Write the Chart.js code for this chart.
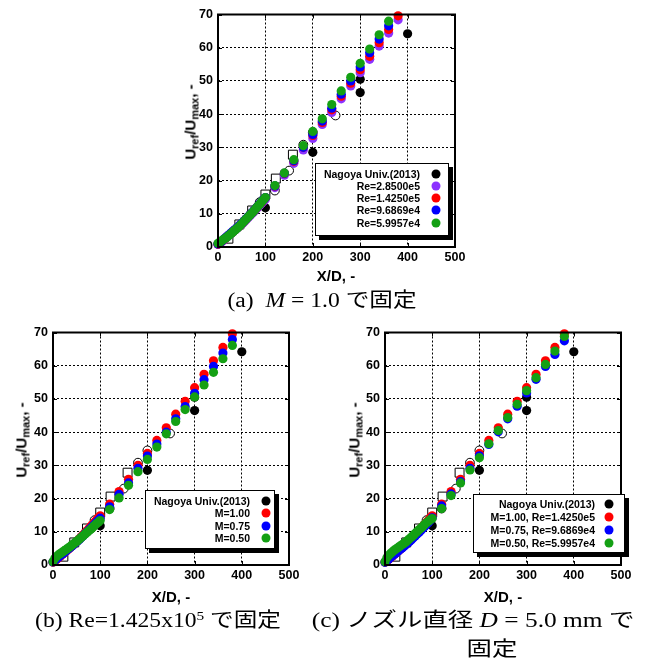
<!DOCTYPE html>
<html><head><meta charset="utf-8">
<script src="https://cdn.jsdelivr.net/npm/chart.js@4.4.1/dist/chart.umd.min.js"></script>
<style>
body{margin:0;background:#fff;}
#fig{position:relative;width:646px;height:665px;overflow:hidden;background:#fff;}
canvas{position:absolute;}
.ytitle{position:absolute;font:bold 15px 'Liberation Sans',Arial,sans-serif;transform:translate(-50%,-50%) rotate(-90deg);white-space:nowrap;line-height:17px;}
.ytitle sub{font-size:11px;vertical-align:-3px;line-height:0;}
.xtitle{position:absolute;font:bold 15px 'Liberation Sans',Arial,sans-serif;transform:translate(-50%,-50%);white-space:nowrap;line-height:17px;}
.cap{position:absolute;font:20px 'Liberation Serif','Noto Sans CJK JP',serif;transform:translate(-50%,-50%) scaleX(1.18);white-space:nowrap;line-height:24px;}
.cap.wide{transform:translate(-50%,-50%) scaleX(1.27);}
.cap sup{font-size:13px;vertical-align:7px;line-height:0;}
.legend{position:absolute;background:#fff;border:1.5px solid #000;box-shadow:4px 4px 0 #000;box-sizing:border-box;}
.legend .lt{position:absolute;font:bold 10.5px 'Liberation Sans',Arial,sans-serif;white-space:nowrap;line-height:12px;transform:translate(-100%,-50%);}
.legend .ld{position:absolute;width:9px;height:9px;border-radius:50%;transform:translate(-50%,-50%);}
</style>
</head><body>
<div id="fig">
<canvas id="ca"></canvas><canvas id="cb"></canvas><canvas id="cc"></canvas>
</div>
<script>
// ---------------- data ----------------
const X_D = [0,4,8,12,16,20,24,28,32,36,40,44,48,52,56,60,64,68,72,76,80,84,88,92,96,100,
             120,140,160,180,200,220,240,260,280,300,320,340,360,380];
const X_TICKS = [0,100,200,300,400,500];
const Y_TICKS = [0,10,20,30,40,50,60,70];

// Nagoya Univ.(2013) reference points
const NAGOYA_X = [100,200,300,300,400];
const NAGOYA_Y = [11.8,28.5,50.5,46.5,64.2];
// additional reference data (open squares / open circles)
const OPEN_SQ_X = [22,45,72,100,122,158];
const OPEN_SQ_Y = [2.5,6.8,11.0,15.8,20.6,27.8];
const OPEN_CI_X = [88,120,150,180,200,248];
const OPEN_CI_Y = [13.5,17.0,23.0,30.8,34.5,39.6];

// M=1.00, Re=1.4250e5 (shared by all panels)
const RED_M100 = [0.8,1.2,1.7,2.2,2.7,3.2,3.7,4.2,4.7,5.2,5.7,6.2,6.8,7.3,7.9,8.5,9.1,9.7,10.3,10.9,11.6,12.2,12.9,13.5,14.2,14.8,
                  18.3,22.1,25.8,30.0,33.6,37.5,41.3,45.4,49.3,53.4,57.4,61.5,65.5,69.6];
// (a) M = 1.0
const A_RE285 = [0.8,1.1,1.6,2.1,2.6,3.1,3.6,4.1,4.6,5.1,5.6,6.1,6.6,7.1,7.7,8.3,8.9,9.5,10.1,10.7,11.3,11.9,12.6,13.2,13.8,14.4,
                 17.9,21.6,25.2,29.2,32.7,36.9,40.5,44.6,48.5,52.5,56.5,60.5,64.4,68.4];
const A_RE969 = [0.9,1.3,1.8,2.3,2.8,3.3,3.8,4.3,4.8,5.3,5.8,6.3,6.9,7.4,8.0,8.6,9.2,9.8,10.4,11.0,11.7,12.3,13.0,13.6,14.3,14.9,
                 18.4,22.2,26.0,30.0,33.9,37.9,41.8,46.0,50.0,54.2,58.5,62.6,66.6];
const A_RE600 = [1.1,1.5,1.9,2.3,2.7,3.1,3.6,4.1,4.6,5.1,5.6,6.1,6.7,7.3,7.9,8.5,9.1,9.7,10.3,10.9,11.6,12.3,12.9,13.6,14.2,14.9,
                 18.5,22.3,26.3,30.5,34.8,38.6,42.9,47.0,51.1,55.3,59.6,63.9,68.0];
// (b) Re = 1.425e5
const B_M075 = [0.9,1.4,1.9,2.4,2.9,3.3,3.8,4.3,4.8,5.2,5.7,6.2,6.7,7.2,7.7,8.3,8.8,9.4,9.9,10.5,11.1,11.7,12.3,12.9,13.5,14.1,
                17.5,21.3,24.7,29.1,32.8,36.4,40.0,44.0,47.7,51.7,55.8,59.8,63.8,67.9];
const B_M050 = [1.0,2.0,2.6,3.1,3.5,3.9,4.3,4.7,5.1,5.5,6.0,6.4,6.9,7.3,7.8,8.3,8.8,9.3,9.8,10.3,10.8,11.3,11.9,12.4,12.9,13.4,
                16.7,20.2,24.0,28.1,31.8,35.5,39.5,43.2,46.8,50.6,54.2,58.0,62.1,66.1];
// (c) D = 5.0 mm
const C_M075 = [0.8,1.3,1.8,2.3,2.8,3.2,3.7,4.2,4.7,5.1,5.6,6.1,6.6,7.1,7.6,8.2,8.7,9.3,9.8,10.4,11.0,11.6,12.2,12.8,13.5,14.2,
                17.8,21.4,25.1,29.1,32.9,36.3,40.1,44.0,47.8,51.8,55.9,59.8,63.4,67.5];
const C_M050 = [1.0,2.2,2.9,3.5,4.0,4.5,4.9,5.3,5.7,6.1,6.5,6.9,7.4,7.9,8.4,8.9,9.5,10.0,10.6,11.1,11.6,12.2,12.7,13.2,13.6,14.0,
                17.0,20.9,24.7,28.6,32.3,36.5,40.5,44.4,48.4,52.5,56.4,60.4,64.4,68.8];

const LEG_A = ['Nagoya Univ.(2013)','Re=2.8500e5','Re=1.4250e5','Re=9.6869e4','Re=5.9957e4'];
const LEG_B = ['Nagoya Univ.(2013)','M=1.00','M=0.75','M=0.50'];
const LEG_C = ['Nagoya Univ.(2013)','M=1.00, Re=1.4250e5','M=0.75, Re=9.6869e4','M=0.50, Re=5.9957e4'];

const C_BLACK='#000000', C_PURPLE='#8c32ff', C_RED='#ff0000', C_BLUE='#0000ff', C_GREEN='#14a014';

// ---------------- helpers ----------------
function pts(xs, ys){ return ys.map((v,i)=>({x:xs[i], y:v})); }
function filled(label, xs, ys, color, order){
  return {label, data:pts(xs,ys), pointRadius:4.6, pointHoverRadius:4.6, pointBackgroundColor:color,
          pointBorderColor:color, pointBorderWidth:0, showLine:false, order, clip:false};
}
function refSets(){
  return [
    {label:'sq', data:pts(OPEN_SQ_X,OPEN_SQ_Y), pointStyle:'rect', pointRadius:6.3, pointBackgroundColor:'#fff',
     pointBorderColor:'#000', pointBorderWidth:1, showLine:false, order:20},
    {label:'ci', data:pts(OPEN_CI_X,OPEN_CI_Y), pointStyle:'circle', pointRadius:4.4, pointBackgroundColor:'#fff',
     pointBorderColor:'#000', pointBorderWidth:1, showLine:false, order:21}
  ];
}
const FONT = "'Liberation Sans', Arial, sans-serif";
const framePlugin = {
  id:'frame',
  afterDatasetsDraw(chart){
    const {ctx, chartArea:a, scales:{x,y}} = chart;
    ctx.save();
    ctx.setLineDash([]);
    ctx.strokeStyle='#000'; ctx.lineWidth=1;
    ctx.beginPath();
    x.ticks.forEach(t=>{const p=Math.round(x.getPixelForValue(t.value))+0.5;
      ctx.moveTo(p,a.top); ctx.lineTo(p,a.top+4); ctx.moveTo(p,a.bottom); ctx.lineTo(p,a.bottom-4);});
    y.ticks.forEach(t=>{const p=Math.round(y.getPixelForValue(t.value))+0.5;
      ctx.moveTo(a.left,p); ctx.lineTo(a.left+4,p); ctx.moveTo(a.right,p); ctx.lineTo(a.right-4,p);});
    ctx.stroke();
    ctx.lineWidth=2;
    ctx.strokeRect(a.left, a.top, a.right-a.left, a.bottom-a.top);
    ctx.restore();
  }
};
const PADL=44, PADT=10, PADR=22, PADB=26;
function makeChart(id, plot, datasets){
  const cv=document.getElementById(id);
  const w=plot.R-plot.L+PADL+PADR, h=plot.B-plot.T+PADT+PADB;
  cv.width=w; cv.height=h;
  cv.style.width=w+'px'; cv.style.height=h+'px';
  cv.style.left=(plot.L-PADL)+'px'; cv.style.top=(plot.T-PADT)+'px';
  const tickFont={family:FONT, size:12.5, weight:'bold'};
  return new Chart(cv,{
    type:'scatter',
    data:{datasets},
    options:{
      responsive:false, animation:false, devicePixelRatio:1,
      layout:{padding:{left:0, top:PADT, right:PADR, bottom:0}},
      plugins:{legend:{display:false}, tooltip:{enabled:false}},
      scales:{
        x:{type:'linear', min:0, max:500,
           afterBuildTicks:s=>{s.ticks=X_TICKS.map(v=>({value:v}));},
           ticks:{color:'#000', font:tickFont, padding:3, maxRotation:0, autoSkip:false},
           grid:{color:'#000', lineWidth:1, drawTicks:false},
           border:{display:false, dash:[2,2]},
           afterFit:s=>{s.height=PADB;}},
        y:{type:'linear', min:0, max:70,
           afterBuildTicks:s=>{s.ticks=Y_TICKS.map(v=>({value:v}));},
           ticks:{color:'#000', font:tickFont, padding:5, autoSkip:false},
           grid:{color:'#000', lineWidth:1, drawTicks:false},
           border:{display:false, dash:[2,2]},
           afterFit:s=>{s.width=PADL;}}
      }
    },
    plugins:[framePlugin]
  });
}
const fig=document.getElementById('fig');
function addDiv(cls, html, x, y){ const d=document.createElement('div'); d.className=cls; d.innerHTML=html;
  d.style.left=x+'px'; d.style.top=y+'px'; fig.appendChild(d); return d; }
function addLegend(box, labels, colors, textRight, dotX, rowY){
  const L=document.createElement('div'); L.className='legend';
  L.style.left=box.x+'px'; L.style.top=box.y+'px'; L.style.width=box.w+'px'; L.style.height=box.h+'px';
  labels.forEach((t,i)=>{
    const s=document.createElement('div'); s.className='lt'; s.textContent=t;
    s.style.left=textRight+'px'; s.style.top=rowY[i]+'px'; L.appendChild(s);
    const d=document.createElement('div'); d.className='ld'; d.style.background=colors[i];
    d.style.left=dotX+'px'; d.style.top=rowY[i]+'px'; L.appendChild(d);
  });
  fig.appendChild(L);
}
const YT='U<sub>ref</sub>/U<sub>max</sub>, -';

// ---------------- panel (a) ----------------
makeChart('ca',{L:218,T:12,R:455,B:247},[
  filled(LEG_A[0],NAGOYA_X,NAGOYA_Y,C_BLACK,10),
  filled(LEG_A[1],X_D,A_RE285,C_PURPLE,4),
  filled(LEG_A[2],X_D,RED_M100,C_RED,3),
  filled(LEG_A[3],X_D,A_RE969,C_BLUE,2),
  filled(LEG_A[4],X_D,A_RE600,C_GREEN,1),
  ...refSets()
]);
addDiv('ytitle',YT,190,122);
addDiv('xtitle','X/D, -',336,275);
addDiv('cap','(a)&nbsp; <i>M</i> = 1.0 で固定',322,300);
addLegend({x:315,y:163,w:134,h:73},LEG_A,[C_BLACK,C_PURPLE,C_RED,C_BLUE,C_GREEN],104,120,[9.5,21.8,34.1,46.4,58.7]);

// ---------------- panel (b) ----------------
makeChart('cb',{L:53,T:330,R:289,B:565},[
  filled(LEG_B[0],NAGOYA_X,NAGOYA_Y,C_BLACK,10),
  filled(LEG_B[1],X_D,RED_M100,C_RED,3),
  filled(LEG_B[2],X_D,B_M075,C_BLUE,2),
  filled(LEG_B[3],X_D,B_M050,C_GREEN,1),
  ...refSets()
]);
addDiv('ytitle',YT,21,440);
addDiv('xtitle','X/D, -',171,596);
addDiv('cap','(b) Re=1.425x10<sup>5</sup> で固定',158,620);
addLegend({x:145,y:490,w:130,h:59},LEG_B,[C_BLACK,C_RED,C_BLUE,C_GREEN],104,120,[9.5,22.2,34.6,47.2]);

// ---------------- panel (c) ----------------
makeChart('cc',{L:385,T:330,R:621,B:565},[
  filled(LEG_C[0],NAGOYA_X,NAGOYA_Y,C_BLACK,10),
  filled(LEG_C[1],X_D,RED_M100,C_RED,3),
  filled(LEG_C[2],X_D,C_M075,C_BLUE,2),
  filled(LEG_C[3],X_D,C_M050,C_GREEN,1),
  ...refSets()
]);
addDiv('ytitle',YT,354,440);
addDiv('xtitle','X/D, -',503,596);
addDiv('cap wide','(c) ノズル直径 <i>D</i> = 5.0 mm で',473,620);
addDiv('cap wide','固定',492,649);
addLegend({x:473,y:494,w:152,h:59},LEG_C,[C_BLACK,C_RED,C_BLUE,C_GREEN],121,135,[9.3,22.4,35.2,48.2]);
</script>
</body></html>
